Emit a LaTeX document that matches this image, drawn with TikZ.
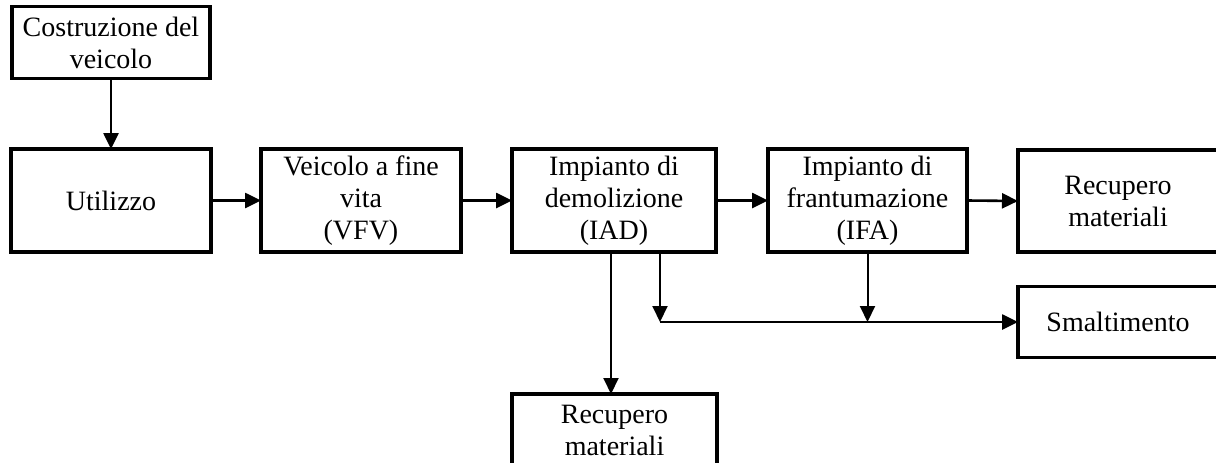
\documentclass[tikz,border=0pt]{standalone}
\usepackage{fontspec}
\setmainfont{Liberation Serif}
\usetikzlibrary{arrows.meta}
\begin{document}
\begin{tikzpicture}[x=1pt,y=-1pt,
  box/.style={draw=black, line width=3.2pt, fill=white, inner sep=0pt, outer sep=0pt,
    align=center, font=\fontsize{28}{32}\selectfont},
  arr/.style={line width=2.6pt, -{Triangle[length=16pt,width=15pt]}},
  thinarr/.style={line width=2pt, -{Triangle[length=16pt,width=15pt]}}]
\useasboundingbox (0,0) rectangle (1216,463);
\clip (0,0) rectangle (1216,463);

% process boxes
\node[box, minimum width=198pt, minimum height=72pt] (costr) at (111,42.5) {Costruzione del\\veicolo};
\node[box, minimum width=200pt, minimum height=103pt] (util) at (111,200.5) {Utilizzo};
\node[box, minimum width=200pt, minimum height=103pt] (vfv) at (361,200.5) {Veicolo a fine\\vita\\(VFV)};
\node[box, minimum width=204pt, minimum height=103pt] (iad) at (614,200.5) {Impianto di\\demolizione\\(IAD)};
\node[box, minimum width=199pt, minimum height=103pt] (ifa) at (867.5,200.5) {Impianto di\\frantumazione\\(IFA)};
\node[box, minimum width=200pt, minimum height=102pt] (rec1) at (1118,201) {Recupero\\materiali};
\node[box, minimum width=200pt, minimum height=71pt] (smalt) at (1118,322) {Smaltimento};
\node[box, minimum width=205pt, minimum height=72pt] (rec2) at (614.5,430) {Recupero\\materiali};

% main flow
\draw[arr] (costr.south) -- (util.north);
\draw[arr] (util.east) -- (vfv.west);
\draw[arr] (vfv.east) -- (iad.west);
\draw[arr] (iad.east) -- (ifa.west);
\draw[arr] (ifa.east) -- (rec1.west);

% outputs of the plants
\coordinate (j) at (660,322);
\draw[thinarr] ([xshift=-3pt]iad.south) -- ([xshift=-3pt]iad.south |- rec2.north);
\draw[thinarr] (iad.south -| j) -- (j);
\draw[thinarr] (ifa.south) -- (ifa.south |- j);
\draw[arr] (j) -- (smalt.west);
\end{tikzpicture}
\end{document}
